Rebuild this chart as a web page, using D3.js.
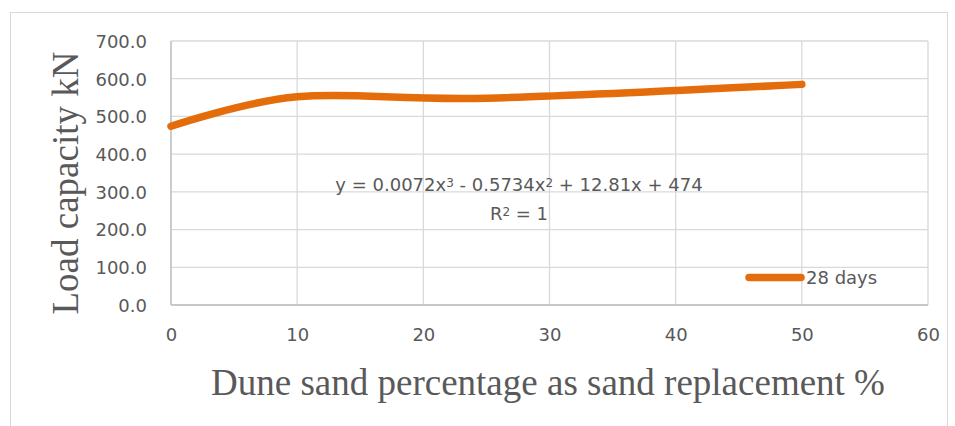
<!DOCTYPE html>
<html>
<head>
<meta charset="utf-8">
<script src="https://cdn.jsdelivr.net/npm/d3@7"></script>
<style>
  html, body { margin: 0; padding: 0; background: #fff; }
  svg { display: block; }
</style>
</head>
<body>
<svg id="chart" width="955" height="426"></svg>
<script>
// Dune sand replacement (%) and 28-day load capacity (kN)
const dunePct = [0, 10, 25, 50];
const loadKN = [474, 552, 548.4, 585];
const seriesName = "28 days";

const xTicks = [0, 10, 20, 30, 40, 50, 60];
const yTicks = [0, 100, 200, 300, 400, 500, 600, 700];

const trendEquation = ["y = 0.0072x", "3", " - 0.5734x", "2", " + 12.81x + 474"];
const rSquared = ["R", "2", " = 1"];

const xTitle = "Dune sand percentage as sand replacement %";
const yTitle = "Load capacity kN";

const svg = d3.select("#chart");
const tickFont = "'DejaVu Sans', sans-serif";
const titleFont = "'Liberation Serif', 'Times New Roman', serif";
const textColor = "#595959";
const gridColor = "#d9d9d9";
const lineColor = "#e46c0a";

// chart frame
svg.append("rect")
  .attr("x", 10.5).attr("y", 12.5)
  .attr("width", 937).attr("height", 430)
  .attr("fill", "#fff").attr("stroke", gridColor).attr("stroke-width", 1);

const plot = { left: 171, right: 928, top: 41, bottom: 305 };

const x = d3.scaleLinear().domain([0, 60]).range([plot.left, plot.right]);
const y = d3.scaleLinear().domain([0, 700]).range([plot.bottom, plot.top]);

// gridlines
const grid = svg.append("g");
grid.selectAll("line.h").data(yTicks).join("line")
  .attr("x1", plot.left).attr("x2", plot.right)
  .attr("y1", d => y(d)).attr("y2", d => y(d))
  .attr("stroke", gridColor).attr("stroke-width", 1.3);
grid.selectAll("line.v").data(xTicks).join("line")
  .attr("y1", plot.top).attr("y2", plot.bottom)
  .attr("x1", d => x(d)).attr("x2", d => x(d))
  .attr("stroke", gridColor).attr("stroke-width", 1.3);

// axis lines
svg.append("line")
  .attr("x1", plot.left).attr("x2", plot.left)
  .attr("y1", plot.top).attr("y2", plot.bottom)
  .attr("stroke", "#bfbfbf").attr("stroke-width", 1.3);
svg.append("line")
  .attr("x1", plot.left).attr("x2", plot.right)
  .attr("y1", plot.bottom).attr("y2", plot.bottom)
  .attr("stroke", "#bfbfbf").attr("stroke-width", 1.3);

// tick labels via d3 axes
const yAxis = svg.append("g")
  .attr("transform", `translate(${plot.left - 24},0)`)
  .call(d3.axisLeft(y).tickValues(yTicks).tickFormat(d3.format(".1f")).tickSize(0).tickPadding(0));
const xAxis = svg.append("g")
  .attr("transform", `translate(0,${plot.bottom + 23})`)
  .call(d3.axisBottom(x).tickValues(xTicks).tickFormat(d3.format("d")).tickSize(0).tickPadding(0));
[yAxis, xAxis].forEach(a => {
  a.select(".domain").remove();
  a.selectAll("text")
    .attr("fill", textColor)
    .style("font-family", tickFont)
    .style("font-size", "18px");
});
yAxis.selectAll("text").attr("dy", "0.35em");
xAxis.selectAll("text").attr("dy", "0.71em");

// series line (smoothed)
const line = d3.line()
  .x(d => x(d[0]))
  .y(d => y(d[1]))
  .curve(d3.curveCardinal.tension(0));
svg.append("path")
  .datum(dunePct.map((p, i) => [p, loadKN[i]]))
  .attr("d", line)
  .attr("fill", "none")
  .attr("stroke", lineColor)
  .attr("stroke-width", 7.5)
  .attr("stroke-linecap", "round")
  .attr("stroke-linejoin", "round");

// trendline equation labels
function richText(parts, cx, cy) {
  const t = svg.append("text")
    .attr("x", cx).attr("y", cy)
    .attr("text-anchor", "middle")
    .attr("dy", "0.35em")
    .attr("fill", textColor)
    .style("font-family", tickFont)
    .style("font-size", "18px");
  parts.forEach((p, i) => {
    const sup = i % 2 === 1;
    t.append("tspan")
      .attr("baseline-shift", sup ? "35%" : null)
      .style("font-size", sup ? "12px" : null)
      .text(p);
  });
}
richText(trendEquation, 519, 185);
richText(rSquared, 519, 214);

// legend
svg.append("line")
  .attr("x1", 749).attr("x2", 801)
  .attr("y1", 277.5).attr("y2", 277.5)
  .attr("stroke", lineColor).attr("stroke-width", 7.5)
  .attr("stroke-linecap", "round");
svg.append("text")
  .attr("x", 806).attr("y", 277.5).attr("dy", "0.35em")
  .attr("fill", textColor)
  .style("font-family", tickFont)
  .style("font-size", "18px")
  .text(seriesName);

// axis titles
svg.append("text")
  .attr("x", 548).attr("y", 395)
  .attr("text-anchor", "middle")
  .attr("fill", textColor)
  .style("font-family", titleFont)
  .style("font-size", "37px")
  .text(xTitle);
svg.append("text")
  .attr("transform", "translate(78,183) rotate(-90)")
  .attr("text-anchor", "middle")
  .attr("fill", textColor)
  .style("font-family", titleFont)
  .style("font-size", "37px")
  .text(yTitle);
</script>
</body>
</html>
